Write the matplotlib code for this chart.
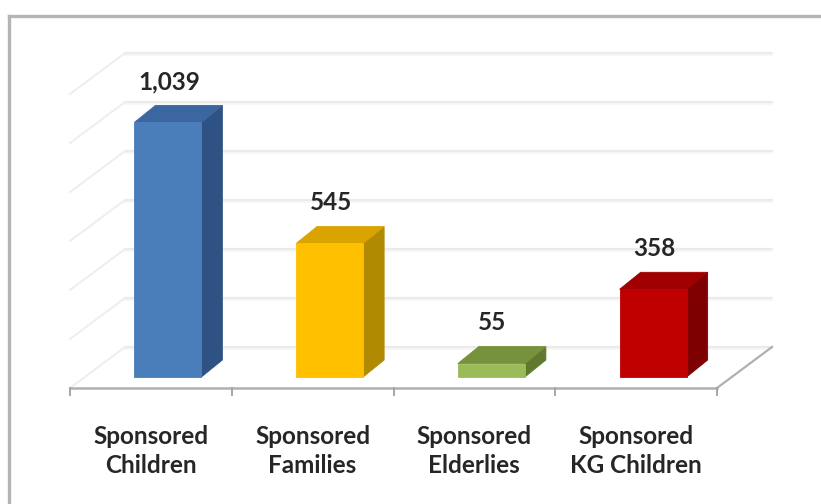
import matplotlib
matplotlib.use("Agg")
import matplotlib.pyplot as plt
from matplotlib.patches import Polygon, Rectangle
from matplotlib.lines import Line2D

# ---------------- data ----------------
categories = ["Sponsored\nChildren", "Sponsored\nFamilies", "Sponsored\nElderlies", "Sponsored\nKG Children"]
values = [1039, 545, 55, 358]
value_labels = ["1,039", "545", "55", "358"]
grid_values = [0, 200, 400, 600, 800, 1000, 1200]

front_colors = ["#4A7EBB", "#FFC000", "#9BBB59", "#C00000"]
top_colors = ["#3B66A0", "#D9A300", "#76923C", "#A00000"]
side_colors = ["#2E5283", "#B08A00", "#5F7A2E", "#7E0000"]

# ---------------- geometry (pixel based projection) ----------------
W, H = 821, 504
PX_X = 161.75          # pixels per category
PX_Y = 0.245           # pixels per value unit
X0_PX = 70             # pixel x of left edge of category axis
Y0_PX = 388            # pixel y (from top) of value 0 on front edge

def dxp(px):  # pixel offset -> category units
    return px / PX_X

def dyp(px):  # pixel offset -> value units
    return px / PX_Y

FLOOR_DX, FLOOR_DY = dxp(55), dyp(41)      # depth of floor / back wall
BAR_OX, BAR_OY = dxp(17), dyp(11)          # bar front plane offset
BAR_DX, BAR_DY = dxp(21), dyp(17)          # bar depth
BAR_W = dxp(67)

fig = plt.figure(figsize=(W / 100, H / 100), dpi=100)
ax = fig.add_axes([0, 0, 1, 1])
xmin = -0.5 - X0_PX / PX_X
ymin = -(H - Y0_PX) / PX_Y
ax.set_xlim(xmin, xmin + W / PX_X)
ax.set_ylim(ymin, ymin + H / PX_Y)
ax.axis("off")

n = len(categories)
xl, xr = -0.5, n - 0.5

# back wall gridlines and side wall gridlines
for g in grid_values:
    ax.plot([xl + FLOOR_DX, xr + FLOOR_DX], [g + FLOOR_DY, g + FLOOR_DY],
            color="#ebebeb", lw=1.6, solid_capstyle="round", zorder=1)
    ax.plot([xl + FLOOR_DX, xr + FLOOR_DX], [g + FLOOR_DY - dyp(2), g + FLOOR_DY - dyp(2)],
            color="#f6f6f6", lw=1.2, zorder=0.9)
    ax.plot([xl, xl + FLOOR_DX], [g, g + FLOOR_DY],
            color="#eeeeee", lw=1.4, zorder=1)

# floor edges
ax.plot([xl, xr], [0, 0], color="#b0b0b0", lw=1.8, zorder=2)
ax.plot([xr, xr + FLOOR_DX], [0, FLOOR_DY], color="#b0b0b0", lw=1.6, zorder=2)
for k in range(n + 1):
    ax.plot([xl + k, xl + k], [0, -dyp(7)], color="#a6a6a6", lw=1.4, zorder=2)

# bars
for i, v in enumerate(values):
    x0 = i - BAR_W / 2 + BAR_OX
    x1 = i + BAR_W / 2 + BAR_OX
    y0 = BAR_OY
    y1 = BAR_OY + v
    side = Polygon([(x1, y0), (x1, y1), (x1 + BAR_DX, y1 + BAR_DY), (x1 + BAR_DX, y0 + BAR_DY)],
                   closed=True, facecolor=side_colors[i], edgecolor=side_colors[i], lw=0.6, zorder=3)
    top = Polygon([(x0, y1), (x1, y1), (x1 + BAR_DX, y1 + BAR_DY), (x0 + BAR_DX, y1 + BAR_DY)],
                  closed=True, facecolor=top_colors[i], edgecolor=top_colors[i], lw=0.6, zorder=3)
    front = Rectangle((x0, y0), x1 - x0, v, facecolor=front_colors[i],
                      edgecolor=front_colors[i], lw=0.6, zorder=4)
    ax.add_patch(side)
    ax.add_patch(top)
    ax.add_patch(front)
    ax.annotate(value_labels[i], xy=(i + BAR_OX + dxp(1), y1), xytext=(0, 41),
                textcoords="offset pixels", ha="center", va="center",
                fontsize=17.5, fontweight="bold", color="#262626",
                fontfamily=["Lato", "DejaVu Sans"], zorder=5)

# category labels
for i, c in enumerate(categories):
    ax.annotate(c, xy=(i, 0), xytext=(0, -63), textcoords="offset pixels",
                ha="center", va="center", fontsize=17.5, fontweight="bold",
                color="#262626", linespacing=1.36,
                fontfamily=["Lato", "DejaVu Sans"], zorder=5)

# outer chart frame
fx, fy = 9 / W, 1 - 16 / H
fig.add_artist(Line2D([fx, fx], [fy, -0.05], transform=fig.transFigure, color="#b4b4b4", lw=2.4))
fig.add_artist(Line2D([fx, 1.05], [fy, fy], transform=fig.transFigure, color="#b4b4b4", lw=2.4))

fig.savefig("out.png", dpi=100, facecolor="white")
